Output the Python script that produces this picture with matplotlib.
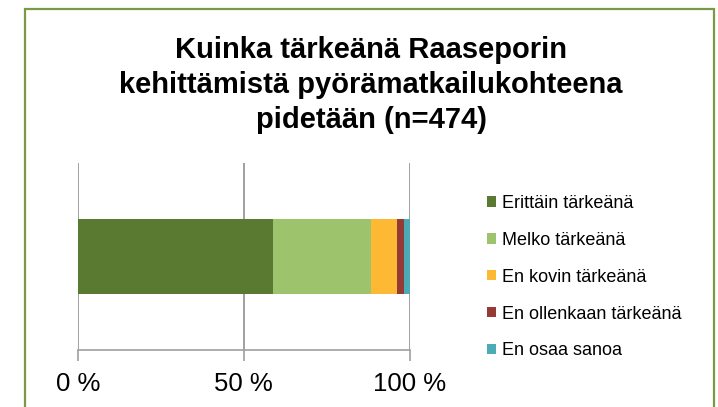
import matplotlib
matplotlib.use("Agg")
import matplotlib.pyplot as plt
from matplotlib.patches import Rectangle

# ------------------------------------- Data ------------------------------#
title = "Kuinka tärkeänä Raaseporin\nkehittämistä pyörämatkailukohteena\npidetään (n=474)"
categories = ["Erittäin tärkeänä", "Melko tärkeänä", "En kovin tärkeänä",
              "En ollenkaan tärkeänä", "En osaa sanoa"]
shares = [58.7, 29.6, 7.8, 2.1, 1.8]
colors = ["#5B7A31", "#9EC36D", "#FEB934", "#953A35", "#4BACB6"]
xticks = [0, 50, 100]
xtick_labels = ["0 %", "50 %", "100 %"]

plt.rcParams['font.family'] = ['Liberation Sans', 'DejaVu Sans']

W, H = 718, 407
fig = plt.figure(figsize=(W / 100, H / 100), dpi=100)

# chart area frame (bottom edge runs off the picture)
fig.add_artist(Rectangle((25 / W, -0.05), (714 - 25) / W, (407 - 9) / H + 0.05,
                         transform=fig.transFigure, fill=False,
                         edgecolor="#7A9A48", lw=1.6))

ax = fig.add_axes([77.7 / W, (H - 350) / H, 332 / W, 187 / H])

# ------------------------------------- Stacked bar ----------------------#
left = 0
handles = []
for name, val, col in zip(categories, shares, colors):
    b = ax.barh(0, val, left=left, height=0.4, color=col, label=name, zorder=3)
    handles.append(b)
    left += val

ax.set_xlim(0, 100)
ax.set_ylim(-0.5, 0.5)
ax.set_yticks([])
ax.set_xticks(xticks)
ax.set_xticklabels(xtick_labels, fontsize=18.5)
ax.tick_params(axis='x', length=8, width=1.2, color="#A0A0A0", pad=7.5)
ax.grid(True, axis='x', color="#A0A0A0", lw=1.4, zorder=0)
for s in ["top", "right", "left"]:
    ax.spines[s].set_visible(False)
ax.spines["bottom"].set_color("#A0A0A0")
ax.spines["bottom"].set_linewidth(1.2)

fig.text(371 / W, 1 - 85 / H, title, ha='center', va='center',
         fontsize=21, fontweight='bold', linespacing=1.33)

fig.legend(handles=handles, labels=categories, loc='upper left',
           bbox_to_anchor=(487 / W, 1 - 195 / H), frameon=False, fontsize=13,
           handlelength=0.5, handleheight=0.5, handletextpad=0.35,
           labelspacing=1.1, borderpad=0, borderaxespad=0)

fig.savefig("out.png", dpi=100)
